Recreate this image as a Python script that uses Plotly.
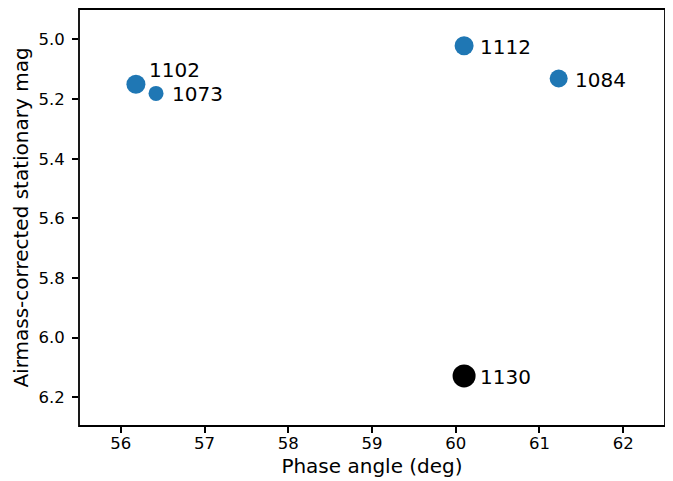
import plotly.graph_objects as go

# Data
ids = ["1102", "1073", "1112", "1084", "1130"]
phase_angle = [56.18, 56.42, 60.10, 61.23, 60.10]
stationary_mag = [5.150, 5.181, 5.021, 5.131, 6.128]

# Styles (kept separate from the data)
marker_sizes = [19, 15, 19, 18, 23]
marker_colors = ["#1f77b4", "#1f77b4", "#1f77b4", "#1f77b4", "#000000"]
label_xshift = [11, 14, 14, 14, 14]
label_yshift = [14, -1, -1, -1, -1]

FONT = "DejaVu Sans"

fig = go.Figure()
fig.add_trace(go.Scatter(
    x=phase_angle, y=stationary_mag, mode="markers",
    marker=dict(size=marker_sizes, color=marker_colors, opacity=1, line=dict(width=0)),
    showlegend=False, hoverinfo="skip", cliponaxis=False,
))

for i, lab in enumerate(ids):
    fig.add_annotation(
        x=phase_angle[i], y=stationary_mag[i], text=lab, showarrow=False,
        xanchor="left", yanchor="middle",
        xshift=label_xshift[i], yshift=label_yshift[i],
        font=dict(family=FONT, size=20, color="black"),
    )

# axes frame
fig.add_shape(type="rect", xref="x domain", yref="y domain", x0=0, x1=1, y0=0, y1=1,
              line=dict(color="black", width=1.8), fillcolor="rgba(0,0,0,0)", layer="above")

axis_common = dict(
    showline=False,
    ticks="outside", ticklen=6, tickwidth=1.5, tickcolor="black",
    showgrid=False, zeroline=False, automargin=False,
    tickfont=dict(family=FONT, size=16.5, color="black"),
)

fig.update_xaxes(
    range=[55.5, 62.5], tickmode="linear", tick0=56, dtick=1,
    ticklabelstandoff=-4,
    title=dict(text="Phase angle (deg)", font=dict(family=FONT, size=20, color="black"), standoff=7),
    **axis_common,
)
fig.update_yaxes(
    range=[6.296, 4.898], tickmode="array",
    tickvals=[5.0, 5.2, 5.4, 5.6, 5.8, 6.0, 6.2],
    ticktext=["5.0", "5.2", "5.4", "5.6", "5.8", "6.0", "6.2"],
    ticklabelstandoff=4,
    title=dict(text="Airmass-corrected stationary mag", font=dict(family=FONT, size=20, color="black"), standoff=4),
    **axis_common,
)

# The page body has an 8px margin, so the figure is sized to fit inside the window
fig.update_layout(
    width=665, height=473,
    margin=dict(l=71, r=8, t=1, b=55, autoexpand=False),
    paper_bgcolor="white", plot_bgcolor="white",
    font=dict(family=FONT, color="black"),
)

fig.write_html("out.html")
